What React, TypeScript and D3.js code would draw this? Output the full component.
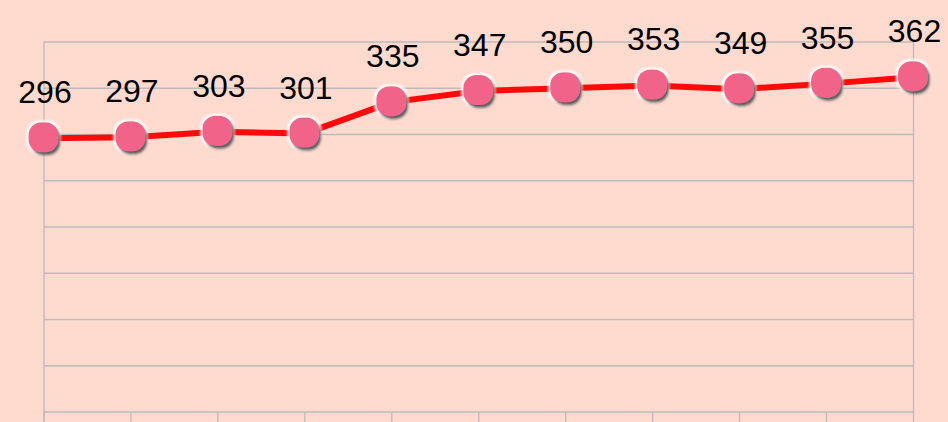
import React from 'react';
import * as d3 from 'd3';

// chart values
const categories = ['1', '2', '3', '4', '5', '6', '7', '8', '9', '10', '11'];
const values = [296, 297, 303, 301, 335, 347, 350, 353, 349, 355, 362];
const yTicks = [0, 50, 100, 150, 200, 250, 300, 350, 400];

const WIDTH = 948;
const HEIGHT = 422;
const LEFT = 44;
const RIGHT = 913.5;
const TOP = 42;
const BOTTOM = 412;

const BG = 'rgb(255, 218, 206)';
const GRID = 'rgb(190, 186, 186)';
const LINE = 'rgb(255, 10, 10)';
const MARKER = 'rgb(242, 100, 137)';

export default function App() {
  const x = d3.scalePoint<string>().domain(categories).range([LEFT, RIGHT]);
  const y = d3.scaleLinear().domain([0, 400]).range([BOTTOM, TOP]);

  const line = d3
    .line<number>()
    .x((d, i) => x(categories[i]) as number)
    .y((d) => y(d));

  return (
    <div style={{ position: 'fixed', left: 0, top: 0, width: WIDTH, height: HEIGHT, background: BG }}>
      <svg width={WIDTH} height={HEIGHT} style={{ display: 'block' }}>
        <defs>
          <filter id="mk" x="-50%" y="-50%" width="200%" height="200%">
            <feMorphology in="SourceAlpha" operator="dilate" radius="1.5" result="grow" />
            <feGaussianBlur in="grow" stdDeviation="1" result="glowb" />
            <feFlood floodColor="#ffffff" floodOpacity="0.9" />
            <feComposite in2="glowb" operator="in" result="glow" />
            <feGaussianBlur in="SourceAlpha" stdDeviation="1.2" result="sb" />
            <feOffset in="sb" dx="2" dy="2.5" result="so" />
            <feFlood floodColor="#2e2e2e" floodOpacity="0.9" />
            <feComposite in2="so" operator="in" result="shadow" />
            <feMerge>
              <feMergeNode in="glow" />
              <feMergeNode in="shadow" />
              <feMergeNode in="SourceGraphic" />
            </feMerge>
          </filter>
        </defs>

        {/* horizontal grid */}
        {yTicks.map((t) => (
          <line key={t} x1={LEFT} x2={RIGHT} y1={y(t)} y2={y(t)} stroke={GRID} strokeWidth={1.3} />
        ))}
        {/* axes */}
        <line x1={LEFT} x2={LEFT} y1={TOP} y2={HEIGHT} stroke={GRID} strokeWidth={1.3} />
        <line x1={RIGHT} x2={RIGHT} y1={TOP} y2={BOTTOM} stroke={GRID} strokeWidth={1.3} />
        {categories.map((c) => (
          <line key={c} x1={x(c)} x2={x(c)} y1={BOTTOM} y2={HEIGHT} stroke={GRID} strokeWidth={1.3} />
        ))}

        <path d={line(values) || ''} fill="none" stroke={LINE} strokeWidth={6} strokeLinejoin="round" />

        {values.map((v, i) => {
          const cx = x(categories[i]) as number;
          const cy = y(v);
          return (
            <g key={i}>
              <rect
                x={cx - 15.5}
                y={cy - 16}
                width={30}
                height={30}
                rx={13}
                fill={MARKER}
                filter="url(#mk)"
              />
              <text
                x={cx + 1}
                y={cy - 35}
                textAnchor="middle"
                fontFamily="'Liberation Sans', Arial, sans-serif"
                fontSize={32}
                fill="#000"
              >
                {v}
              </text>
            </g>
          );
        })}
      </svg>
    </div>
  );
}
